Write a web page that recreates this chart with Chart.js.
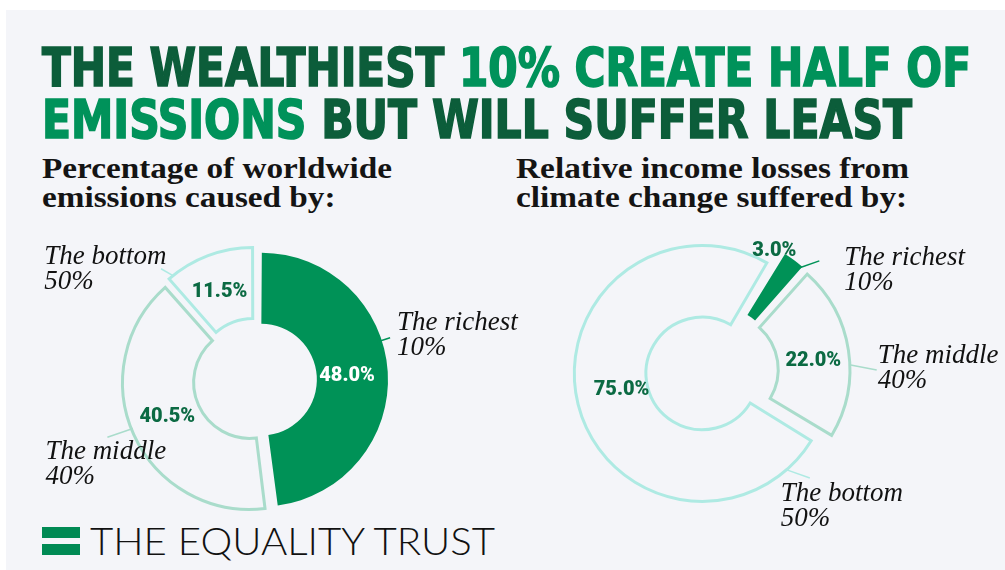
<!DOCTYPE html>
<html lang="en">
<head>
<meta charset="utf-8">
<title>The wealthiest 10% create half of emissions but will suffer least</title>
<script src="https://cdn.jsdelivr.net/npm/chart.js@4.4.1/dist/chart.umd.min.js"></script>
<style>
html, body { margin:0; padding:0; background:#ffffff; }
body { width:1005px; height:570px; position:relative; overflow:hidden; }
#panel { position:absolute; left:6px; top:10px; width:999px; height:560px; background:#f4f5f9; }
.txt { position:absolute; left:0; top:0; white-space:nowrap; transform-origin:0 0; line-height:1.2; }
.title { font-family:"DejaVu Sans Condensed", "DejaVu Sans", sans-serif; font-weight:bold; font-size:53px; color:#0c5d3a; -webkit-text-stroke:1.6px #0c5d3a; }
.title .hl { color:#00925a; -webkit-text-stroke:1.6px #00925a; }
.sub { font-family:"Liberation Serif", serif; font-weight:bold; font-size:30px; color:#141414; }
.logo { font-family:"Lato", sans-serif; font-weight:300; font-size:37px; color:#111111; }
canvas { position:absolute; }
.bar { position:absolute; left:42px; width:38px; height:11px; background:#008a54; }
</style>
</head>
<body>
<div id="panel"></div>
<div class="txt title" id="t1">THE WEALTHIEST <span class="hl">10% CREATE HALF OF</span></div>
<div class="txt title" id="t2"><span class="hl">EMISSIONS</span> BUT WILL SUFFER LEAST</div>
<div class="txt sub" id="s1">Percentage of worldwide</div>
<div class="txt sub" id="s2">emissions caused by:</div>
<div class="txt sub" id="s3">Relative income losses from</div>
<div class="txt sub" id="s4">climate change suffered by:</div>
<div class="bar" style="top:527px"></div>
<div class="bar" style="top:544px"></div>
<div class="txt logo" id="lg">THE EQUALITY TRUST</div>
<canvas id="left" width="530" height="300" style="left:30px;top:230px"></canvas>
<canvas id="right" width="485" height="330" style="left:520px;top:220px"></canvas>
<script>
// ---- data ----
const groups = ['The richest', 'The middle', 'The bottom'];
const groupShares = ['10%', '40%', '50%'];
const emissionsShare = [48.0, 40.5, 11.5];
const incomeLossShare = [3.0, 22.0, 75.0];

// ---- style ----
const GREEN = '#009257', DARK = '#0b6a43', MIDC = '#a9dccb', BOTC = '#aeeae3';
const fills = [GREEN, 'rgba(0,0,0,0)', 'rgba(0,0,0,0)'];
const borders = [GREEN, MIDC, BOTC];
const borderWidths = [0, 3, 3];
const deg = Math.PI / 180;

const sliceAnnotations = {
  id: 'sliceAnnotations',
  afterDatasetUpdate(chart, args) {
    // keep one common radius for every exploded slice
    args.meta.data.forEach(arc => {
      const off = ((arc.options && arc.options.offset) || 0) / 4;
      const circ = arc.endAngle - arc.startAngle;
      const fix = 1 - Math.sin(Math.min(Math.PI, circ));
      const r = off * fix;
      arc.outerRadius -= r;
      arc.innerRadius -= r;
    });
  },
  afterDatasetsDraw(chart, args, o) {
    const ctx = chart.ctx;
    const arcs = chart.getDatasetMeta(0).data;
    const ds = chart.data.datasets[0];
    arcs.forEach((arc, i) => {
      const mid = (arc.startAngle + arc.endAngle) / 2;
      const t = ((arc.options && arc.options.offset) || 0) / 4;
      const cx = arc.x + Math.cos(mid) * t, cy = arc.y + Math.sin(mid) * t;
      const P = (a, r) => [cx + Math.sin(a * deg) * r, cy - Math.cos(a * deg) * r];
      const midDeg = mid / deg + 90;
      const vp = o.valuePos[i];
      const rm = (arc.innerRadius + arc.outerRadius) / 2 + vp.dr;
      const [vx, vy] = P(midDeg + vp.da, rm);
      ctx.save();
      ctx.font = '900 20px Roboto';
      ctx.fillStyle = o.valueColors[i];
      ctx.textAlign = 'center';
      ctx.textBaseline = 'middle';
      ctx.fillText(ds.data[i].toFixed(1) + '%', vx, vy + 1);
      const c = o.callouts[i];
      const [x1, y1] = P(c.a1, arc.outerRadius + c.d1);
      const [x2, y2] = P(c.a2, arc.outerRadius + c.d2);
      ctx.strokeStyle = o.lineColors[i];
      ctx.lineWidth = 1.5;
      ctx.beginPath(); ctx.moveTo(x1, y1); ctx.lineTo(x2, y2); ctx.stroke();
      ctx.font = 'italic 27px "Liberation Serif"';
      ctx.fillStyle = '#111111';
      ctx.textAlign = 'left';
      ctx.textBaseline = 'alphabetic';
      const lines = chart.data.labels[i];
      lines.forEach((s, k) => ctx.fillText(s, x2 + c.dx, y2 + c.dy + k * 25));
      ctx.restore();
    });
  }
};

function makeChart(id, values, rotation, offsetPx, pad, radius, annot) {
  return new Chart(document.getElementById(id), {
    type: 'doughnut',
    data: {
      labels: groups.map((g, i) => [g, groupShares[i]]),
      datasets: [{
        data: values,
        backgroundColor: fills,
        borderColor: borders,
        borderWidth: borderWidths,
        borderJoinStyle: 'miter',
        offset: offsetPx * 4,
        hoverOffset: 0
      }]
    },
    options: {
      responsive: false,
      animation: false,
      events: [],
      rotation: rotation,
      radius: radius,
      cutout: '44%',
      layout: { padding: pad },
      plugins: { legend: { display: false }, tooltip: { enabled: false }, sliceAnnotations: annot }
    },
    plugins: [sliceAnnotations]
  });
}

makeChart('left', emissionsShare, 0, 6, { right: 80 }, 127, {
  valueColors: ['#ffffff', DARK, DARK],
  lineColors: [GREEN, MIDC, BOTC],
  valuePos: [{ da: 0.7, dr: 0 }, { da: 2.1, dr: 0 }, { da: -1.2, dr: 0 }],
  callouts: [
    { a1: 72, d1: 1, a2: 72, d2: 14, dx: 7, dy: -8 },
    { a1: 248.5, d1: 1, a2: 248.9, d2: 28, dx: -62, dy: 22 },
    { a1: 321, d1: 2, a2: 319, d2: 15, dx: -116.7, dy: -5.2 }
  ]
});

makeChart('right', incomeLossShare, 31, 10, { right: 101, bottom: 28 }, 128, {
  valueColors: [DARK, DARK, DARK],
  lineColors: [GREEN, MIDC, BOTC],
  valuePos: [{ da: -9.8, dr: 42 }, { da: 2.6, dr: 0 }, { da: 3.2, dr: 0 }],
  callouts: [
    { a1: 40, d1: 3, a2: 44.8, d2: 24, dx: 25, dy: 4 },
    { a1: 88, d1: 1, a2: 90.2, d2: 27, dx: 1, dy: -7 },
    { a1: 139.1, d1: 9, a2: 134.2, d2: 32, dx: -29, dy: 23 }
  ]
});

// ---- text placement ----
function fit(id, x, baseline, targetW, scale) {
  const el = document.getElementById(id);
  el.style.transform = 'none';
  el.style.left = x + 'px';
  el.style.top = '0px';
  let mk = el.querySelector('.mk');
  if (!mk) {
    mk = document.createElement('span');
    mk.className = 'mk';
    mk.style.cssText = 'display:inline-block;width:0;height:0;vertical-align:baseline;';
    el.appendChild(mk);
  }
  const base = mk.offsetTop;
  el.style.top = (baseline - base) + 'px';
  const w = el.getBoundingClientRect().width;
  const s = targetW ? targetW / w : scale;
  el.style.transform = 'scaleX(' + s + ')';
  return s;
}
function layoutText() {
  fit('t1', 42, 86, 929);
  fit('t2', 42, 138, 870);
  const a = fit('s1', 42, 178, 350);
  fit('s2', 42, 207, null, a);
  const b = fit('s3', 516, 178, 393);
  fit('s4', 516, 207, null, b);
  fit('lg', 90, 555, 405);
}
layoutText();
if (document.fonts && document.fonts.ready) document.fonts.ready.then(layoutText);
</script>
</body>
</html>
